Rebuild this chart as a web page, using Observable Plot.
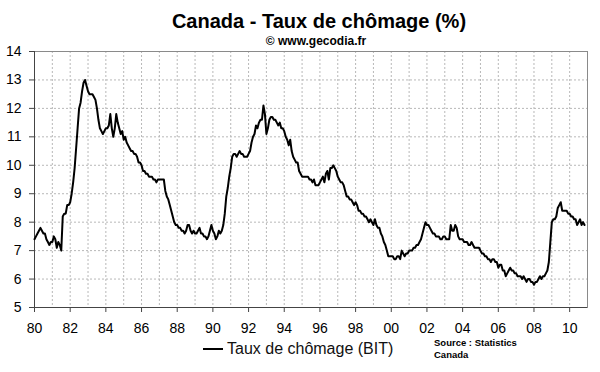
<!DOCTYPE html>
<html>
<head>
<meta charset="utf-8">
<script src="https://cdn.jsdelivr.net/npm/d3@7"></script>
<script src="https://cdn.jsdelivr.net/npm/@observablehq/plot@0.6"></script>
<style>
  html, body { margin: 0; padding: 0; background: #fff; }
  #wrap { position: relative; width: 600px; height: 372px; font-family: "Liberation Sans", Arial, sans-serif; color: #000; overflow: hidden; }
  #chart { position: absolute; left: 0; top: 0; }
  .abs { position: absolute; white-space: nowrap; }
  #title { left: 319px; top: 11px; transform: translateX(-50%); font-size: 20px; line-height: 20px; font-weight: bold; }
  #sub { left: 316px; top: 35px; transform: translateX(-50%); font-size: 12px; line-height: 12px; font-weight: bold; }
  #legline { left: 203px; top: 348px; width: 20px; height: 2px; background: #000; }
  #legtext { left: 227px; top: 341px; font-size: 16px; line-height: 16px; color: #111; }
  #source { left: 434px; top: 337px; font-size: 9.5px; line-height: 12px; font-weight: bold; }
</style>
</head>
<body>
<div id="wrap">
  <div id="chart"></div>
  <div class="abs" id="title">Canada - Taux de chômage (%)</div>
  <div class="abs" id="sub">© www.gecodia.fr</div>
  <div class="abs" id="legline"></div>
  <div class="abs" id="legtext">Taux de chômage (BIT)</div>
  <div class="abs" id="source">Source : Statistics<br>Canada</div>
</div>
<script>
// Monthly unemployment rate (%), Canada, Jan 1980 - Nov 2010, one array per year
const years = [1980,1981,1982,1983,1984,1985,1986,1987,1988,1989,1990,1991,1992,1993,1994,1995,1996,1997,1998,1999,2000,2001,2002,2003,2004,2005,2006,2007,2008,2009,2010];
const r1980 = [7.4,7.5,7.6,7.7,7.8,7.7,7.6,7.6,7.4,7.3,7.2,7.3];
const r1981 = [7.3,7.5,7.4,7.1,7.3,7.2,7.0,8.2,8.3,8.3,8.6,8.6];
const r1982 = [8.7,9.0,9.4,9.9,10.6,11.3,12.0,12.2,12.6,12.9,13.0,12.8];
const r1983 = [12.6,12.5,12.5,12.5,12.4,12.3,12.0,11.6,11.3,11.2,11.1,11.2];
const r1984 = [11.3,11.3,11.4,11.8,11.3,11.0,11.3,11.8,11.5,11.3,11.1,11.2];
const r1985 = [10.9,11.0,10.8,10.7,10.6,10.5,10.5,10.4,10.4,10.3,10.1,10.1];
const r1986 = [10.0,9.8,9.8,9.7,9.7,9.6,9.6,9.6,9.5,9.5,9.4,9.5];
const r1987 = [9.5,9.5,9.5,9.5,9.1,8.9,8.8,8.6,8.4,8.2,8.0,7.9];
const r1988 = [7.9,7.8,7.8,7.7,7.7,7.6,7.7,7.9,7.9,7.7,7.6,7.7];
const r1989 = [7.6,7.6,7.7,7.8,7.6,7.6,7.5,7.5,7.4,7.5,7.7,7.9];
const r1990 = [7.7,7.6,7.4,7.5,7.7,7.6,7.7,7.9,8.3,8.9,9.2,9.6];
const r1991 = [9.9,10.3,10.4,10.4,10.3,10.4,10.5,10.4,10.4,10.3,10.3,10.3];
const r1992 = [10.4,10.5,10.8,11.0,11.1,11.4,11.3,11.5,11.6,11.6,12.1,11.8];
const r1993 = [11.1,11.3,11.6,11.7,11.7,11.6,11.6,11.5,11.4,11.5,11.3,11.3];
const r1994 = [11.2,11.0,10.9,10.7,10.9,10.5,10.3,10.2,10.1,10.1,9.8,9.7];
const r1995 = [9.6,9.6,9.6,9.6,9.6,9.5,9.5,9.4,9.5,9.3,9.3,9.3];
const r1996 = [9.4,9.5,9.6,9.4,9.7,9.8,9.5,9.9,9.9,10.0,9.9,9.8];
const r1997 = [9.6,9.5,9.4,9.4,9.3,9.1,8.9,8.9,8.8,8.8,8.7,8.6];
const r1998 = [8.7,8.6,8.4,8.4,8.3,8.3,8.2,8.2,8.1,8.0,8.1,8.0];
const r1999 = [7.9,8.1,7.9,7.8,7.8,7.6,7.5,7.3,7.2,7.0,6.8,6.8];
const r2000 = [6.8,6.8,6.7,6.7,6.8,6.8,6.7,7.0,6.9,6.8,6.9,6.9];
const r2001 = [7.0,7.0,7.0,7.1,7.1,7.2,7.2,7.3,7.4,7.6,7.8,8.0];
const r2002 = [7.9,7.9,7.8,7.7,7.6,7.6,7.5,7.5,7.5,7.4,7.4,7.5];
const r2003 = [7.5,7.4,7.4,7.4,7.9,7.7,7.7,7.9,7.8,7.5,7.4,7.4];
const r2004 = [7.4,7.3,7.3,7.3,7.2,7.2,7.3,7.2,7.1,7.1,7.1,7.1];
const r2005 = [7.0,6.9,6.9,6.8,6.8,6.7,6.7,6.6,6.7,6.7,6.6,6.6];
const r2006 = [6.4,6.5,6.5,6.3,6.3,6.1,6.2,6.3,6.4,6.3,6.3,6.2];
const r2007 = [6.2,6.1,6.1,6.1,6.0,6.1,6.0,5.9,6.0,6.0,5.9,5.9];
const r2008 = [5.8,5.9,5.9,6.0,6.1,6.0,6.1,6.1,6.2,6.3,6.6,7.3];
const r2009 = [8.0,8.1,8.1,8.2,8.5,8.6,8.7,8.4,8.4,8.4,8.4,8.3];
const r2010 = [8.3,8.2,8.2,8.1,8.1,7.9,8.0,8.1,7.9,8.0,7.9];
const rates = [r1980,r1981,r1982,r1983,r1984,r1985,r1986,r1987,r1988,r1989,r1990,r1991,r1992,r1993,r1994,r1995,r1996,r1997,r1998,r1999,r2000,r2001,r2002,r2003,r2004,r2005,r2006,r2007,r2008,r2009,r2010];

const yTicks = [5,6,7,8,9,10,11,12,13,14];
const xTicks = [1980,1982,1984,1986,1988,1990,1992,1994,1996,1998,2000,2002,2004,2006,2008,2010];
const xTickLabels = ["80","82","84","86","88","90","92","94","96","98","00","02","04","06","08","10"];
const xGridYears = d3.range(1981, 2011);
const yGrid = [6,7,8,9,10,11,12,13];
const seriesName = "Taux de chômage (BIT)";

const data = [];
years.forEach((y, i) => rates[i].forEach((v, m) => data.push({t: y + m / 12, v})));

const chart = Plot.plot({
  width: 600,
  height: 372,
  marginTop: 51,
  marginBottom: 65,
  marginLeft: 34,
  marginRight: 13,
  style: {fontFamily: "'Liberation Sans', Arial, sans-serif", fontSize: "14px", color: "#000", background: "transparent"},
  x: {domain: [1980, 2011]},
  y: {domain: [5, 14]},
  marks: [
    Plot.ruleY(yGrid, {stroke: "#b8b8b8", strokeDasharray: "2,2", strokeWidth: 1}),
    Plot.ruleX(xGridYears, {stroke: "#b8b8b8", strokeDasharray: "2,2", strokeWidth: 1}),
    Plot.frame({anchor: "top", stroke: "#8a8a8a"}),
    Plot.frame({anchor: "right", stroke: "#8a8a8a"}),
    Plot.axisY({ticks: yTicks, tickSize: 5, tickPadding: 8, label: null, tickFormat: d => String(d), stroke: "#444"}),
    Plot.axisX({ticks: xTicks, tickSize: 5, tickPadding: 11, label: null, tickFormat: (d, i) => xTickLabels[xTicks.indexOf(d)], stroke: "#444"}),
    Plot.ruleX([1980], {stroke: "#444"}),
    Plot.ruleY([5], {stroke: "#444"}),
    Plot.line(data, {x: "t", y: "v", stroke: "#000", strokeWidth: 2, title: () => seriesName})
  ]
});
document.getElementById("chart").appendChild(chart);
</script>
</body>
</html>
